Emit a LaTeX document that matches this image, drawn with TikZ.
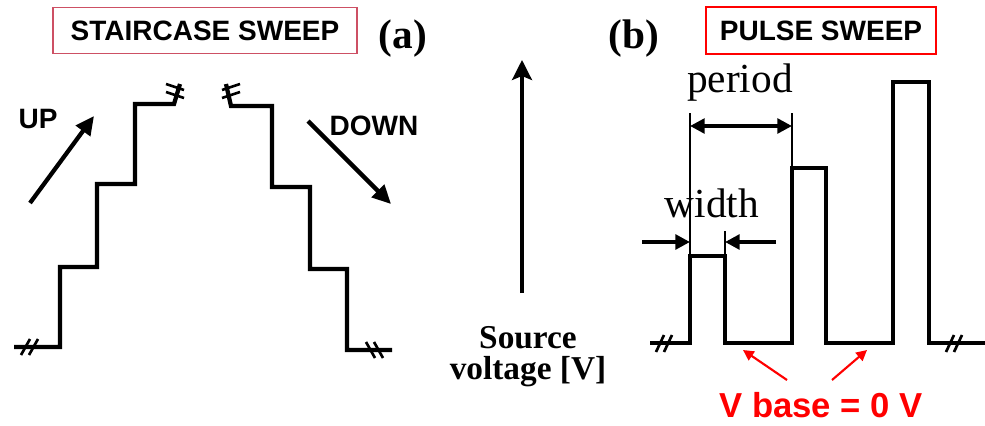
\documentclass[tikz,border=0pt]{standalone}
\usepackage{fontspec}
\setmainfont{Liberation Serif}
\newfontfamily\headfont{Liberation Sans}
\usetikzlibrary{positioning, arrows.meta}
\definecolor{boxpink}{RGB}{205,80,100}
\tikzset{
    titlebox/.style={
        draw, rectangle, inner sep=0pt, font=\headfont\bfseries\fontsize{21}{21}\selectfont
    },
    panellabel/.style={font=\bfseries\fontsize{31}{31}\selectfont, anchor=base},
    sweeplabel/.style={font=\headfont\bfseries\fontsize{21}{21}\selectfont, anchor=base},
    dimlabel/.style={font=\fontsize{31}{31}\selectfont, anchor=base},
    signal/.style={line width=3.2pt, line join=miter},
    breakmark/.style={line width=2pt},
    guide/.style={line width=1.6pt},
    sweeparrow/.style={line width=3.2pt, -{Triangle[length=14pt, width=13pt]}},
    dimarrow/.style={line width=2.6pt, {Triangle[length=11pt, width=11pt]}-{Triangle[length=11pt, width=11pt]}},
    pointer/.style={line width=3pt, -{Triangle[length=11pt, width=11pt]}},
    basearrow/.style={line width=1.6pt, red, -{Triangle[length=8pt, width=8pt]}}
}

\begin{document}
\begin{tikzpicture}[x=0.75pt, y=-0.75pt]
    \useasboundingbox (0,0) rectangle (985,425);

    % titles
    \node[titlebox, draw=boxpink, line width=0.8pt, minimum width=228pt, minimum height=35pt] (stairtitle) at (205,30.5) {STAIRCASE SWEEP};
    \node[panellabel] (labela) at (403,48) {(a)};
    \node[panellabel] (labelb) at (634,48) {(b)};
    \node[titlebox, draw=red, line width=1.3pt, minimum width=172pt, minimum height=35pt] (pulsetitle) at (821,30.5) {PULSE SWEEP};

    % staircase sweep
    \draw[signal] (14,347) -- (60,347) -- (60,267) -- (97,267) -- (97,184) -- (135,184) -- (135,104) -- (174,104) -- (180,84);
    \draw[signal] (226,84) -- (231,106) -- (272,106) -- (272,187) -- (310,187) -- (310,269) -- (347,269) -- (347,350) -- (392,350);
    \draw[breakmark] (21,355) -- (30,339) (29,355) -- (38,339);
    \draw[breakmark] (366,342) -- (375,358) (374,342) -- (383,358);
    \draw[breakmark] (166,84) -- (184,90) (166,92) -- (184,98);
    \draw[breakmark] (222,90) -- (240,84) (222,98) -- (240,92);

    \coordinate (uptail) at (30,203);
    \coordinate (uphead) at (94,116);
    \coordinate (downtail) at (308,121);
    \coordinate (downhead) at (391,204);
    \draw[sweeparrow] (uptail) -- (uphead);
    \draw[sweeparrow] (downtail) -- (downhead);
    \node[sweeplabel] (uplabel) at (38,128) {UP};
    \node[sweeplabel] (downlabel) at (374,135) {DOWN};

    % source voltage axis
    \coordinate (axisfoot) at (522,293);
    \coordinate (axistop) at (522,60);
    \draw[line width=2.4pt, -{Stealth[length=15pt, width=15pt, inset=3pt]}] (axisfoot) -- (axistop);
    \node[font=\bfseries\fontsize{25}{23}\selectfont, align=center, anchor=base] (srclabel) at (528,379) {Source\\voltage [V]};

    % pulse sweep
    \draw[signal] (650,343) -- (690,343) -- (690,256) -- (725,256) -- (725,343) -- (792,343) -- (792,168) -- (826,168) -- (826,343)
        -- (893,343) -- (893,82) -- (929,82) -- (929,343) -- (985,343);
    \draw[breakmark] (656,352) -- (664,335) (664,352) -- (672,335);
    \draw[breakmark] (946,352) -- (954,335) (954,352) -- (962,335);

    \coordinate (p1top) at (690,256);
    \coordinate (p1end) at (725,256);
    \coordinate (p2top) at (792,168);
    \coordinate (pertickl) at (690,113);
    \coordinate (pertickr) at (792,113);
    \coordinate (widtick) at (725,231);
    \draw[guide] (pertickl) -- (p1top);
    \draw[guide] (pertickr) -- (p2top);
    \draw[guide] (widtick) -- (p1end);

    \coordinate (perl) at (690,126);
    \coordinate (perr) at (792,126);
    \draw[dimarrow] (perl) -- (perr);
    \node[dimlabel] (periodlabel) at (740,92) {period};

    \coordinate (widl) at (642,242);
    \coordinate (widla) at (690,242);
    \coordinate (widr) at (776,242);
    \coordinate (widra) at (725,242);
    \draw[pointer] (widl) -- (widla);
    \draw[pointer] (widr) -- (widra);
    \node[dimlabel] (widthlabel) at (712,217) {width};

    % base level
    \node[font=\headfont\bfseries\fontsize{26}{26}\selectfont, text=red, anchor=base] (vbaselabel) at (821,417) {V base = 0 V};
    \coordinate (basel) at (787,380);
    \coordinate (baselt) at (743,350);
    \coordinate (baser) at (832,380);
    \coordinate (basert) at (867,350);
    \draw[basearrow] (basel) -- (baselt);
    \draw[basearrow] (baser) -- (basert);
\end{tikzpicture}
\end{document}
